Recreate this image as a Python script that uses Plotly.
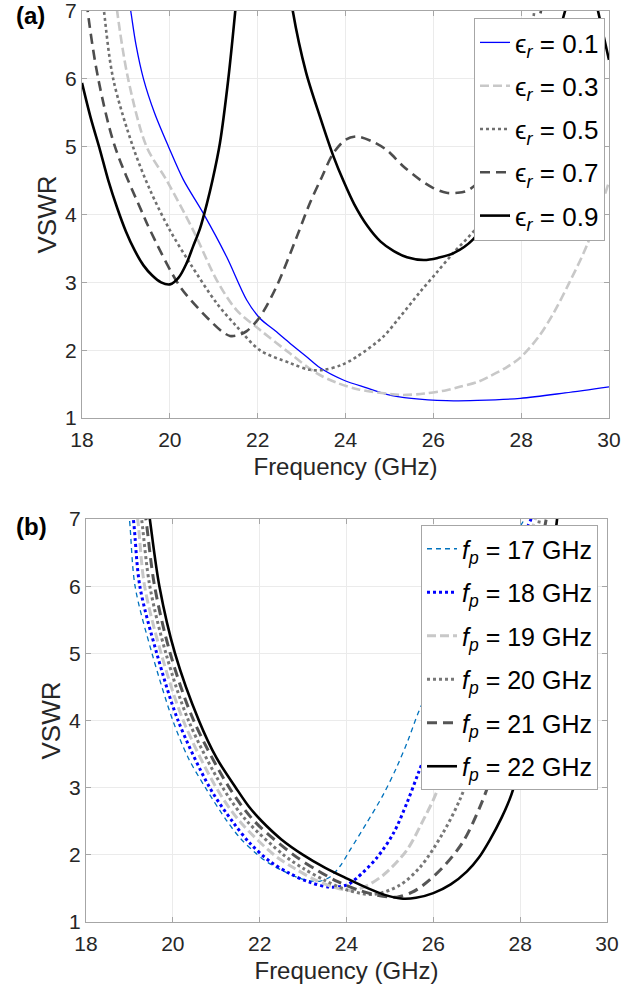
import plotly.graph_objects as go

# ---------------- Panel (a): VSWR vs frequency for several eps_r ----------------
eps_labels = ["0.1", "0.3", "0.5", "0.7", "0.9"]

f_e01 = [19.0, 19.11, 19.23, 19.40, 19.65, 19.97, 20.31, 20.76, 21.29, 21.75, 22.05, 22.4, 22.74, 23.1, 23.42, 23.95, 24.5, 24.94, 25.5, 26.3, 27.0, 27.98, 29.0, 30.0]
v_e01 = [7.45, 7.0, 6.5, 6.0, 5.5, 5.0, 4.51, 4.02, 3.38, 2.74, 2.47, 2.285, 2.10, 1.91, 1.74, 1.56, 1.44, 1.35, 1.29, 1.255, 1.26, 1.29, 1.37, 1.46]

f_e03 = [18.7, 18.8, 19.05, 19.47, 19.93, 20.53, 21.07, 21.52, 22.05, 22.74, 23.34, 23.8, 24.3, 24.94, 25.3, 25.8, 26.3, 26.6, 27.0, 27.3, 27.65, 27.98, 28.4, 28.74, 29.1, 29.5, 30.0]
v_e03 = [7.6, 7.0, 6.0, 5.0, 4.5, 3.77, 3.03, 2.59, 2.3, 1.95, 1.66, 1.52, 1.42, 1.36, 1.34, 1.36, 1.41, 1.46, 1.53, 1.62, 1.74, 1.89, 2.2, 2.55, 3.0, 3.55, 4.48]

f_e05 = [18.4, 18.5, 18.71, 19.16, 19.55, 20.0, 20.46, 21.07, 21.52, 22.05, 22.74, 23.19, 23.5, 23.9, 24.25, 24.86, 25.24, 25.7, 26.07, 26.45, 27.0, 27.5, 28.0, 28.3, 28.45]
v_e05 = [7.6, 7.0, 6.0, 5.0, 4.36, 3.77, 3.28, 2.69, 2.35, 2.0, 1.81, 1.71, 1.71, 1.78, 1.9, 2.2, 2.49, 2.86, 3.14, 3.43, 3.82, 4.4, 5.5, 7.0, 7.6]

f_e07 = [18.05, 18.13, 18.37, 18.75, 19.39, 19.55, 20.23, 20.91, 21.2, 21.37, 21.55, 21.75, 22.05, 22.43, 22.89, 23.19, 23.46, 23.72, 24.0, 24.26, 24.6, 24.94, 25.3, 25.7, 26.0, 26.3, 26.55, 26.8, 27.2, 27.7, 28.1, 28.45, 28.6]
v_e07 = [7.6, 7.0, 6.0, 5.0, 4.0, 3.77, 2.94, 2.44, 2.27, 2.21, 2.22, 2.28, 2.49, 2.94, 3.67, 4.17, 4.55, 4.9, 5.1, 5.15, 5.08, 4.95, 4.72, 4.51, 4.39, 4.32, 4.32, 4.36, 4.6, 5.2, 6.0, 7.0, 7.5]

f_e09 = [18.0, 18.2, 18.41, 18.6, 18.8, 19.0, 19.2, 19.4, 19.6, 19.8, 20.0, 20.2, 20.38, 20.53, 20.69, 20.84, 20.97, 21.14, 21.33, 21.49, 21.6, 21.8, 22.2, 22.6, 22.8, 23.1, 23.42, 23.73, 23.95, 24.2, 24.5, 24.8, 25.1, 25.4, 25.78, 26.1, 26.46, 26.9, 27.5, 28.0, 28.5, 29.0, 29.4, 29.75, 30.0]
v_e09 = [5.94, 5.42, 4.95, 4.5, 4.1, 3.75, 3.47, 3.25, 3.1, 3.0, 2.97, 3.07, 3.28, 3.53, 3.8, 4.15, 4.5, 5.05, 5.99, 7.0, 7.8, 9.0, 9.5, 8.0, 7.0, 6.1, 5.44, 4.85, 4.5, 4.15, 3.83, 3.6, 3.46, 3.37, 3.33, 3.36, 3.43, 3.63, 4.2, 4.9, 5.9, 7.0, 8.0, 7.0, 6.28]

# ---------------- Panel (b): VSWR vs frequency for several f_p ----------------
fp_labels = ["17", "18", "19", "20", "21", "22"]

f_p17 = [18.9, 19.0, 19.13, 19.52, 20.0, 20.35, 20.75, 21.25, 21.55, 21.9, 22.2, 22.54, 22.93, 23.2, 23.4, 23.62, 23.85, 24.08, 24.46, 24.85, 25.16, 25.42, 25.65, 26.2, 26.8, 27.5, 28.1, 28.3]
v_p17 = [7.5, 7.0, 6.0, 5.0, 4.0, 3.45, 3.0, 2.5, 2.25, 2.03, 1.88, 1.76, 1.65, 1.61, 1.61, 1.67, 1.83, 2.07, 2.47, 2.9, 3.31, 3.71, 4.11, 4.9, 5.7, 6.4, 7.0, 7.3]

f_p18 = [18.95, 19.09, 19.24, 19.63, 20.12, 20.85, 21.37, 21.78, 22.24, 22.7, 23.16, 23.62, 24.0, 24.23, 24.69, 25.08, 25.39, 25.65, 26.0, 26.5, 27.0, 27.6, 28.25, 28.4]
v_p18 = [7.6, 7.0, 6.0, 5.0, 4.0, 3.0, 2.5, 2.17, 1.90, 1.72, 1.59, 1.52, 1.55, 1.65, 1.95, 2.32, 2.77, 3.21, 3.8, 4.6, 5.3, 6.2, 7.0, 7.4]

f_p19 = [19.05, 19.19, 19.35, 19.73, 20.24, 21.0, 21.54, 22.33, 22.8, 23.3, 23.7, 24.08, 24.4, 24.85, 25.39, 25.77, 26.0, 26.3, 26.8, 27.4, 28.0, 28.35, 28.5]
v_p19 = [7.6, 7.0, 6.0, 5.0, 4.0, 3.0, 2.5, 2.0, 1.8, 1.62, 1.52, 1.47, 1.52, 1.70, 2.07, 2.52, 2.82, 3.3, 4.2, 5.3, 6.4, 7.0, 7.4]

f_p20 = [19.15, 19.28, 19.47, 19.84, 20.36, 21.15, 21.71, 22.55, 23.0, 23.5, 24.0, 24.62, 25.23, 25.7, 26.2, 26.61, 27.0, 27.5, 28.0, 28.45, 28.6]
v_p20 = [7.6, 7.0, 6.0, 5.0, 4.0, 3.0, 2.5, 2.0, 1.8, 1.62, 1.48, 1.41, 1.55, 1.82, 2.3, 2.82, 3.5, 4.5, 5.7, 7.0, 7.5]

f_p21 = [19.25, 19.38, 19.58, 19.94, 20.48, 21.3, 21.88, 22.78, 23.3, 23.8, 24.3, 24.7, 25.16, 25.5, 25.77, 26.23, 26.69, 27.11, 27.4, 27.8, 28.2, 28.6, 28.75]
v_p21 = [7.6, 7.0, 6.0, 5.0, 4.0, 3.0, 2.5, 2.0, 1.78, 1.6, 1.47, 1.4, 1.37, 1.44, 1.55, 1.82, 2.2, 2.77, 3.3, 4.3, 5.6, 7.0, 7.5]

f_p22 = [19.35, 19.47, 19.69, 20.05, 20.6, 21.0, 21.45, 21.75, 22.05, 22.5, 23.0, 23.5, 24.0, 24.5, 24.9, 25.25, 25.6, 26.0, 26.4, 26.77, 27.05, 27.3, 27.57, 27.8, 28.1, 28.4, 28.65, 28.85, 28.95]
v_p22 = [7.6, 7.0, 6.0, 5.0, 4.0, 3.45, 3.0, 2.72, 2.5, 2.23, 2.0, 1.81, 1.65, 1.5, 1.4, 1.35, 1.36, 1.43, 1.56, 1.75, 1.96, 2.22, 2.55, 2.9, 3.6, 4.6, 5.8, 7.0, 7.5]

x_ticks = [18, 20, 22, 24, 26, 28, 30]
y_ticks = [1, 2, 3, 4, 5, 6, 7]

# ---------------- styling ----------------
FONT = "Liberation Sans, Arial, Helvetica, sans-serif"
W, H = 641, 994

style_a = [
    dict(color="#0000ff", width=1.3, dash="solid"),
    dict(color="#c8c8c8", width=2.6, dash="9px,4px"),
    dict(color="#707070", width=2.6, dash="dot"),
    dict(color="#4d4d4d", width=2.6, dash="10px,6px"),
    dict(color="#000000", width=2.6, dash="solid"),
]
style_b = [
    dict(color="#0072bd", width=1.3, dash="5px,4px"),
    dict(color="#0000ff", width=3.0, dash="dot"),
    dict(color="#c8c8c8", width=3.0, dash="9px,4px"),
    dict(color="#777777", width=3.0, dash="dot"),
    dict(color="#555555", width=3.0, dash="10px,6px"),
    dict(color="#000000", width=2.6, dash="solid"),
]

series_a = [(f_e01, v_e01), (f_e03, v_e03), (f_e05, v_e05), (f_e07, v_e07), (f_e09, v_e09)]
series_b = [(f_p17, v_p17), (f_p18, v_p18), (f_p19, v_p19), (f_p20, v_p20), (f_p21, v_p21), (f_p22, v_p22)]

fig = go.Figure()

for i, ((fx, vy), lab, st) in enumerate(zip(series_a, eps_labels, style_a)):
    fig.add_trace(go.Scatter(
        x=fx, y=vy, mode="lines", xaxis="x", yaxis="y",
        line=dict(color=st["color"], width=st["width"], dash=st["dash"], shape="spline", smoothing=0.9),
        name="\u03f5<sub><i>r</i></sub> = " + lab,
        legend="legend", legendgroup="a" + str(i),
    ))

for i, ((fx, vy), lab, st) in enumerate(zip(series_b, fp_labels, style_b)):
    fig.add_trace(go.Scatter(
        x=fx, y=vy, mode="lines", xaxis="x2", yaxis="y2",
        line=dict(color=st["color"], width=st["width"], dash=st["dash"], shape="spline", smoothing=0.9),
        name="<i>f</i><sub><i>p</i></sub> = " + lab + " GHz",
        legend="legend2", legendgroup="b" + str(i),
    ))

ax_common = dict(
    showline=True, linecolor="#a6a6a6", linewidth=1, mirror="ticks",
    ticks="inside", ticklen=5, tickcolor="#a6a6a6",
    showgrid=True, gridcolor="#ebebeb", gridwidth=1, zeroline=False,
    tickfont=dict(family=FONT, size=21, color="#262626"),
    automargin=False, ticklabeloverflow="allow",
)

def xax(domain, anchor):
    d = dict(ax_common)
    d.update(domain=domain, anchor=anchor, range=[18, 30], tickvals=x_ticks,
             ticktext=[str(t) for t in x_ticks], ticklabelstandoff=3,
             title=dict(text="Frequency (GHz)", font=dict(family=FONT, size=24, color="#262626"), standoff=7))
    return d

def yax(domain, anchor):
    d = dict(ax_common)
    d.update(domain=domain, anchor=anchor, range=[1, 7], tickvals=y_ticks,
             ticktext=[str(t) for t in y_ticks],
             title=dict(text="VSWR", font=dict(family=FONT, size=26, color="#262626"), standoff=1))
    return d

legend_a = dict(
    bgcolor="#ffffff", bordercolor="#a6a6a6", borderwidth=1,
    font=dict(family=FONT, size=26, color="#000000"),
    xanchor="left", yanchor="top", itemwidth=30, tracegroupgap=6.5,
    x=474 / W, y=1 - 18 / H,
)
legend_b = dict(
    bgcolor="#ffffff", bordercolor="#a6a6a6", borderwidth=1,
    font=dict(family=FONT, size=25, color="#000000"),
    xanchor="left", yanchor="top", itemwidth=30, tracegroupgap=8,
    x=421 / W, y=1 - 525 / H,
)

fig.update_layout(
    width=W, height=H, autosize=False,
    margin=dict(l=0, r=0, t=0, b=0, autoexpand=False),
    paper_bgcolor="white", plot_bgcolor="white",
    showlegend=True,
    xaxis=xax([82 / W, 609 / W], "y"),
    yaxis=yax([1 - 418 / H, 1 - 11 / H], "x"),
    xaxis2=xax([86 / W, 607 / W], "y2"),
    yaxis2=yax([1 - 922 / H, 1 - 519 / H], "x2"),
    legend=legend_a,
    legend2=legend_b,
    annotations=[
        dict(text="<b>(a)</b>", x=14 / W, y=1 - 16 / H, xref="paper", yref="paper",
             xanchor="left", yanchor="middle", showarrow=False,
             font=dict(family=FONT, size=24, color="#000000")),
        dict(text="<b>(b)</b>", x=14 / W, y=1 - 526 / H, xref="paper", yref="paper",
             xanchor="left", yanchor="middle", showarrow=False,
             font=dict(family=FONT, size=24, color="#000000")),
    ],
)

fig.write_html("out.html")
